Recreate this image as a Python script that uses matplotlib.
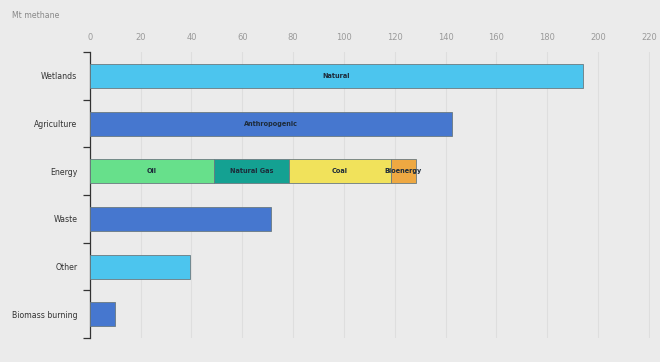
import matplotlib.pyplot as plt
import numpy as np

categories = ["Wetlands", "Agriculture", "Energy", "Waste", "Other", "Biomass burning"]
totals = [194.2, 142.5, None, 71.3, 39.4, 10.0]
bar_colors = ["#4cc5ee", "#4677cf", None, "#4677cf", "#4cc5ee", "#4677cf"]
bar_texts = ["Natural", "Anthropogenic", None, "", "", ""]

energy_parts = ["Oil", "Natural Gas", "Coal", "Bioenergy"]
energy_values = [48.9, 29.4, 40.1, 9.8]
energy_colors = ["#67e08b", "#14a192", "#f1e25b", "#eea842"]

bg = "#ebebeb"
fig = plt.figure(figsize=(6.6, 3.62), dpi=100, facecolor=bg)
ax = fig.add_axes([0.136, 0.066, 0.849, 0.79])
ax.set_facecolor(bg)

y = np.arange(len(categories))
h = 0.5
edge = "#6a7a80"

for i, (v, c, t) in enumerate(zip(totals, bar_colors, bar_texts)):
    if v is None:
        continue
    ax.barh(y[i], v, height=h, color=c, edgecolor=edge, linewidth=0.6, zorder=3)
    if t:
        ax.text(v / 2, y[i], t, ha="center", va="center", fontsize=4.7,
                fontweight="bold", color="#1d2b3a", zorder=4)

left = 0
ei = categories.index("Energy")
for name, v, c in zip(energy_parts, energy_values, energy_colors):
    ax.barh(y[ei], v, left=left, height=h, color=c, edgecolor=edge, linewidth=0.6, zorder=3)
    ax.text(left + v / 2, y[ei], name, ha="center", va="center", fontsize=4.7,
            fontweight="bold", color="#1d2b3a", zorder=4)
    left += v

ax.set_xlim(0, 220.5)
ax.set_ylim(len(categories) - 0.5, -0.5)
ax.set_yticks(y)
ax.set_yticklabels(categories, fontsize=5.6, color="#333333")
ax.set_yticks(np.arange(-0.5, len(categories)), minor=True)
ax.tick_params(axis="y", which="major", length=0, pad=9)
ax.tick_params(axis="y", which="minor", length=5, width=0.9, color="#333333", direction="out")

ax.set_xticks(np.arange(0, 221, 20))
ax.xaxis.tick_top()
ax.tick_params(axis="x", length=0, labelsize=6.0, labelcolor="#9a9a9a", pad=7)
ax.grid(axis="x", color="#dedede", linewidth=0.8, zorder=0)

for s in ["top", "right", "bottom"]:
    ax.spines[s].set_visible(False)
ax.spines["left"].set_color("#333333")
ax.spines["left"].set_linewidth(0.9)

fig.text(0.018, 0.958, "Mt methane", fontsize=5.6, color="#888888", va="center")

fig.savefig("out.png", dpi=100, facecolor=bg)
